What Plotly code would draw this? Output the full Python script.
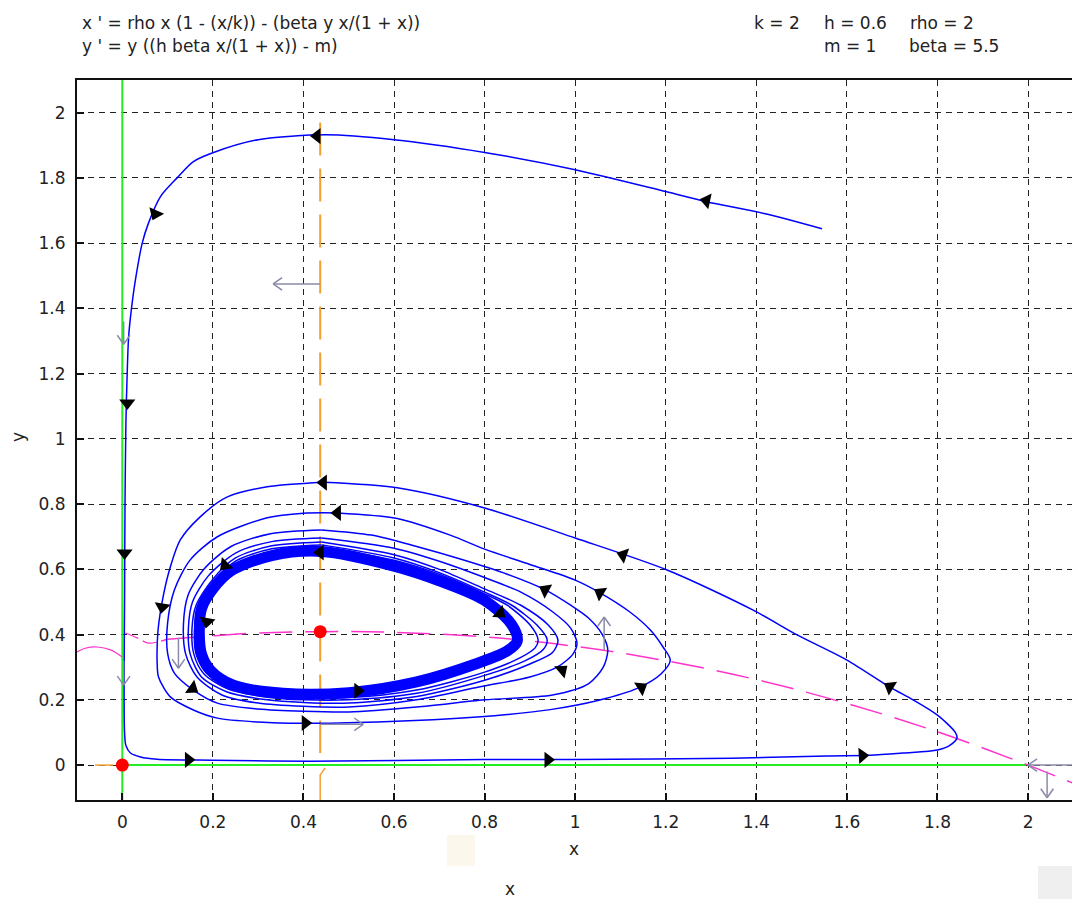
import math
import plotly.graph_objects as go

# ---------------- data ----------------
x_ticks = [0, 0.2, 0.4, 0.6, 0.8, 1.0, 1.2, 1.4, 1.6, 1.8, 2.0]
x_tick_text = ["0", "0.2", "0.4", "0.6", "0.8", "1", "1.2", "1.4", "1.6", "1.8", "2"]
y_ticks = [0, 0.2, 0.4, 0.6, 0.8, 1.0, 1.2, 1.4, 1.6, 1.8, 2.0]
y_tick_text = ["0", "0.2", "0.4", "0.6", "0.8", "1", "1.2", "1.4", "1.6", "1.8", "2"]

# trajectory: from start point, over the top, down the y-axis, along the x-axis, back up
traj1_x = [1.545, 1.42, 1.29, 1.2, 1.0, 0.8, 0.6, 0.45, 0.3, 0.2, 0.157, 0.121, 0.084, 0.058,
           0.044, 0.029, 0.02, 0.014, 0.011, 0.008, 0.006, 0.005, 0.004, 0.005, 0.008, 0.018,
           0.04, 0.077, 0.2, 0.415, 0.8, 1.0, 1.346, 1.556, 1.65, 1.724, 1.8, 1.828, 1.843,
           1.839, 1.8, 1.746, 1.695, 1.6, 1.49, 1.393, 1.203, 1.0, 0.8, 0.607, 0.444]
traj1_y = [1.644, 1.69, 1.727, 1.758, 1.825, 1.878, 1.917, 1.932, 1.917, 1.877, 1.85, 1.8, 1.742,
           1.662, 1.6, 1.487, 1.396, 1.313, 1.21, 1.05, 0.8, 0.5, 0.25, 0.1, 0.06, 0.037, 0.025,
           0.018, 0.015, 0.012, 0.017, 0.017, 0.021, 0.028, 0.03, 0.037, 0.046, 0.061, 0.083,
           0.101, 0.153, 0.2, 0.239, 0.322, 0.399, 0.475, 0.598, 0.696, 0.788, 0.85, 0.867]

loopA_x = [0.444, 0.32, 0.232, 0.172, 0.128, 0.106, 0.09, 0.079, 0.077, 0.08, 0.106, 0.157, 0.21,
           0.3, 0.4, 0.563, 0.724, 0.85, 0.945, 1.05, 1.137, 1.19, 1.21, 1.194, 1.166, 1.12,
           1.055, 1.0, 0.9, 0.8, 0.724, 0.607, 0.475]
loopA_y = [0.867, 0.853, 0.822, 0.761, 0.69, 0.607, 0.515, 0.414, 0.313, 0.27, 0.209, 0.169,
           0.144, 0.132, 0.128, 0.132, 0.142, 0.155, 0.17, 0.198, 0.235, 0.28, 0.322, 0.362,
           0.414, 0.47, 0.528, 0.567, 0.615, 0.662, 0.705, 0.756, 0.773]

loopB_x = [0.475, 0.4, 0.32, 0.21, 0.15, 0.115, 0.1, 0.1, 0.115, 0.157, 0.21, 0.3, 0.4, 0.5,
           0.65, 0.8, 0.95, 1.03, 1.062, 1.072, 1.06, 1.03, 0.99, 0.934, 0.85, 0.75, 0.65, 0.55, 0.44]
loopB_y = [0.773, 0.772, 0.758, 0.7, 0.629, 0.537, 0.435, 0.343, 0.282, 0.23, 0.19, 0.172,
           0.165, 0.163, 0.178, 0.2, 0.215, 0.25, 0.3, 0.353, 0.4, 0.45, 0.49, 0.537, 0.585,
           0.63, 0.67, 0.705, 0.721]

loopC_x = [0.44, 0.33, 0.24, 0.18, 0.145, 0.135, 0.14, 0.165, 0.22, 0.3, 0.4, 0.5, 0.65, 0.79,
           0.9, 0.96, 0.995, 1.004, 0.99, 0.95, 0.88, 0.8, 0.7, 0.6, 0.44]
loopC_y = [0.721, 0.71, 0.67, 0.6, 0.52, 0.43, 0.34, 0.27, 0.215, 0.19, 0.18, 0.178, 0.2, 0.24,
           0.27, 0.3, 0.34, 0.374, 0.42, 0.47, 0.53, 0.575, 0.625, 0.665, 0.696]

loopD_x = [0.44, 0.33, 0.25, 0.19, 0.155, 0.146, 0.15, 0.175, 0.23, 0.32, 0.4, 0.5, 0.65, 0.8,
           0.9, 0.95, 0.962, 0.94, 0.88, 0.8, 0.7, 0.6, 0.44]
loopD_y = [0.696, 0.685, 0.65, 0.58, 0.5, 0.42, 0.34, 0.27, 0.225, 0.2, 0.192, 0.19, 0.21, 0.26,
           0.31, 0.345, 0.383, 0.43, 0.49, 0.54, 0.6, 0.645, 0.684]

loopE_x = [0.44, 0.33, 0.25, 0.2, 0.163, 0.154, 0.158, 0.18, 0.235, 0.32, 0.4, 0.5, 0.65, 0.8,
           0.89, 0.93, 0.938, 0.915, 0.86, 0.8, 0.7, 0.6, 0.44]
loopE_y = [0.684, 0.672, 0.635, 0.57, 0.49, 0.42, 0.34, 0.28, 0.232, 0.208, 0.2, 0.2, 0.22,
           0.275, 0.32, 0.355, 0.385, 0.43, 0.49, 0.53, 0.59, 0.635, 0.675]

loopF_x = [0.44, 0.33, 0.25, 0.205, 0.17, 0.16, 0.163, 0.185, 0.24, 0.33, 0.5, 0.65, 0.8, 0.88,
           0.912, 0.918, 0.9, 0.85, 0.8, 0.7, 0.6, 0.44]
loopF_y = [0.675, 0.663, 0.625, 0.565, 0.49, 0.42, 0.34, 0.283, 0.238, 0.213, 0.207, 0.23,
           0.285, 0.33, 0.36, 0.385, 0.43, 0.49, 0.525, 0.585, 0.628, 0.667]

# the dense limit-cycle band
band_x = [0.44, 0.33, 0.24, 0.2, 0.175, 0.17, 0.175, 0.195, 0.245, 0.355, 0.5, 0.65, 0.78,
          0.85, 0.872, 0.86, 0.8, 0.7, 0.6, 0.44]
band_y = [0.655, 0.642, 0.595, 0.54, 0.48, 0.41, 0.34, 0.29, 0.245, 0.22, 0.222, 0.255, 0.31,
          0.35, 0.38, 0.43, 0.505, 0.565, 0.61, 0.655]

# x-nullcline (magenta)
ncx_main_x = [0.1, 0.2, 0.3, 0.44, 0.6, 0.8, 1.0, 1.2, 1.4, 1.6, 1.8, 2.0, 2.1]
ncx_main_y = [0.386, 0.396, 0.405, 0.409, 0.407, 0.393, 0.364, 0.32, 0.262, 0.189, 0.102, 0.0, -0.056]
ncx_left_x = [-0.1, -0.08, -0.055, -0.026, 0.0]
ncx_left_y = [0.347, 0.359, 0.362, 0.353, 0.331]
ncx_mid_x = [0.007, 0.033, 0.057, 0.077, 0.1]
ncx_mid_y = [0.405, 0.39, 0.374, 0.377, 0.386]

# y-nullcline (orange)
ncy_x = [0.437, 0.437]
ncy_y = [1.97, 0.037]
ncy_low_x = [0.448, 0.437, 0.437]
ncy_low_y = [-0.009, -0.03, -0.107]
ncy_left_x = [-0.06, -0.02]
ncy_left_y = [0.0, 0.0]

# equilibria
eq_x = [0.0, 0.437]
eq_y = [0.0, 0.409]

# black direction arrows on trajectories
arrow_x = [0.43, 0.073, 1.29, 0.011, 0.005, 0.146, 0.94, 1.634, 1.695, 1.106, 0.444, 0.088,
           0.404, 1.146, 1.055, 0.475, 0.155, 0.934, 0.971, 0.227, 0.437, 0.187, 0.834, 0.52]
arrow_y = [1.928, 1.69, 1.73, 1.11, 0.65, 0.016, 0.016, 0.029, 0.24, 0.644, 0.866, 0.485,
           0.129, 0.238, 0.528, 0.773, 0.235, 0.537, 0.291, 0.613, 0.652, 0.44, 0.466, 0.228]
arrow_angle = [180, 114, 192, 90, 90, 0, 0, -3, 211, 199, 180, 99,
               0, -32, 211, 180, 35, 208, -40, 135, 180, 100, 40, 0]

# grey nullcline direction arrows (tail -> head)
garrow_x0 = [0.437, 0.003, 0.003, 0.124, 0.437, 1.064, 2.1, 2.042]
garrow_y0 = [1.475, 1.36, 0.32, 0.39, 0.125, 0.353, 0.0, -0.02]
garrow_x1 = [0.333, 0.003, 0.003, 0.124, 0.532, 1.064, 2.0, 2.042]
garrow_y1 = [1.475, 1.29, 0.245, 0.297, 0.125, 0.454, 0.0, -0.1]

# ---------------- figure ----------------
W, H = 1072, 899
ML, MR, MT, MB = 77, 0, 80, 99
XR = [-0.1, 2.097]
YR = [-0.107, 2.1]
SX = (W - ML - MR) / (XR[1] - XR[0])
SY = (H - MT - MB) / (YR[1] - YR[0])

BLUE = "#0000ff"
fig = go.Figure()

# green axes-nullclines
fig.add_trace(go.Scatter(x=[0, 0], y=[YR[0], YR[1]], mode="lines",
                         line=dict(color="#22ee22", width=2)))
fig.add_trace(go.Scatter(x=[0, 1.995], y=[0, 0], mode="lines",
                         line=dict(color="#22ee22", width=2)))

# orange
fig.add_trace(go.Scatter(x=ncy_x, y=ncy_y, mode="lines",
                         line=dict(color="#f0a030", width=2, dash="33px,13px")))
fig.add_trace(go.Scatter(x=ncy_low_x, y=ncy_low_y, mode="lines",
                         line=dict(color="#f0a030", width=1.5)))
fig.add_trace(go.Scatter(x=ncy_left_x, y=ncy_left_y, mode="lines",
                         line=dict(color="#f0a030", width=1.5)))

# magenta
fig.add_trace(go.Scatter(x=ncx_main_x, y=ncx_main_y, mode="lines", line_shape="spline",
                         line=dict(color="#ff33cc", width=1.5, dash="33px,13px")))
fig.add_trace(go.Scatter(x=ncx_left_x, y=ncx_left_y, mode="lines", line_shape="spline",
                         line=dict(color="#ff33cc", width=1.2)))
fig.add_trace(go.Scatter(x=ncx_mid_x, y=ncx_mid_y, mode="lines", line_shape="spline",
                         line=dict(color="#ff33cc", width=1.2, dash="14px,5px")))

# trajectories
for xs, ys in [(traj1_x, traj1_y), (loopA_x, loopA_y), (loopB_x, loopB_y),
               (loopC_x, loopC_y), (loopD_x, loopD_y), (loopE_x, loopE_y),
               (loopF_x, loopF_y)]:
    fig.add_trace(go.Scatter(x=xs, y=ys, mode="lines",
                             line=dict(color=BLUE, width=1.5, shape="spline", smoothing=0.8)))
fig.add_trace(go.Scatter(x=band_x, y=band_y, mode="lines",
                         line=dict(color=BLUE, width=11, shape="spline", smoothing=0.9)))

# grey arrows with open chevron heads
gx, gy = [], []
for x0, y0, x1, y1 in zip(garrow_x0, garrow_y0, garrow_x1, garrow_y1):
    gx += [x0, x1, None]
    gy += [y0, y1, None]
    dx, dy = (x1 - x0) * SX, (y1 - y0) * SY
    L = math.hypot(dx, dy)
    ux, uy = dx / L, dy / L
    for s in (1, -1):
        a = math.radians(35) * s
        bx = -(ux * math.cos(a) - uy * math.sin(a)) * 11
        by = -(ux * math.sin(a) + uy * math.cos(a)) * 11
        gx += [x1, x1 + bx / SX, None]
        gy += [y1, y1 + by / SY, None]
fig.add_trace(go.Scatter(x=gx, y=gy, mode="lines", line=dict(color="#8a8aa8", width=1.5)))

# black arrows
fig.add_trace(go.Scatter(x=arrow_x, y=arrow_y, mode="markers",
                         marker=dict(symbol="triangle-right", size=14, color="black",
                                     angle=arrow_angle, line=dict(width=0))))

# equilibria
fig.add_trace(go.Scatter(x=eq_x, y=eq_y, mode="markers",
                         marker=dict(symbol="circle", size=13, color="#ff0000", line=dict(width=0))))

FONT = "DejaVu Sans"
TXT = "#222222"


def px(xp, yp):
    return (xp - ML) / (W - ML - MR), (H - MB - yp) / (H - MT - MB)


annos = []


def add_text(t, xp, yp, xanchor="left", size=17, angle=0):
    xx, yy = px(xp, yp)
    annos.append(dict(text=t, x=xx, y=yy, xref="paper", yref="paper", showarrow=False,
                      xanchor=xanchor, yanchor="middle", textangle=angle,
                      font=dict(family=FONT, size=size, color=TXT)))


add_text("x ' = rho x (1 - (x/k)) - (beta y x/(1 + x))", 80, 23)
add_text("y ' = y ((h beta x/(1 + x)) - m)", 80, 46)
add_text("k = 2", 752, 23)
add_text("h = 0.6", 822, 23)
add_text("rho = 2", 908, 23)
add_text("m = 1", 822, 46)
add_text("beta = 5.5", 907, 46)
add_text("x", 574, 849, xanchor="center")
add_text("x", 510, 889, xanchor="center")
add_text("y", 18, 437, xanchor="center", angle=-90)

shapes = []
for (x0p, y0p, x1p, y1p, col) in [(447, 835, 475, 866, "#fcf7ec"), (1038, 866, 1072, 899, "#efefef")]:
    a0, b0 = px(x0p, y1p)
    a1, b1 = px(x1p, y0p)
    shapes.append(dict(type="rect", xref="paper", yref="paper", x0=a0, x1=a1, y0=b0, y1=b1,
                       fillcolor=col, line=dict(width=0), layer="below"))

axis_common = dict(showgrid=True, gridcolor="#222222", gridwidth=1.3, griddash="6px,5px",
                   zeroline=False, showline=True, linecolor="#111111", linewidth=2,
                   ticks="inside", ticklen=7, tickcolor="#111111", tickwidth=1.5,
                   tickfont=dict(family=FONT, size=17, color=TXT))

fig.update_layout(
    width=W, height=H, margin=dict(l=ML, r=MR, t=MT, b=MB, pad=0),
    paper_bgcolor="white", plot_bgcolor="white", showlegend=False,
    xaxis=dict(range=XR, tickvals=x_ticks, ticktext=x_tick_text, mirror=True,
               ticklabelstandoff=6, **axis_common),
    yaxis=dict(range=YR, tickvals=y_ticks, ticktext=y_tick_text, ticklabelstandoff=6,
               **axis_common),
    annotations=annos, shapes=shapes,
)

fig.write_html("out.html", config={"displayModeBar": False},
               post_script="document.body.style.margin='0';document.body.style.overflow='hidden';")
